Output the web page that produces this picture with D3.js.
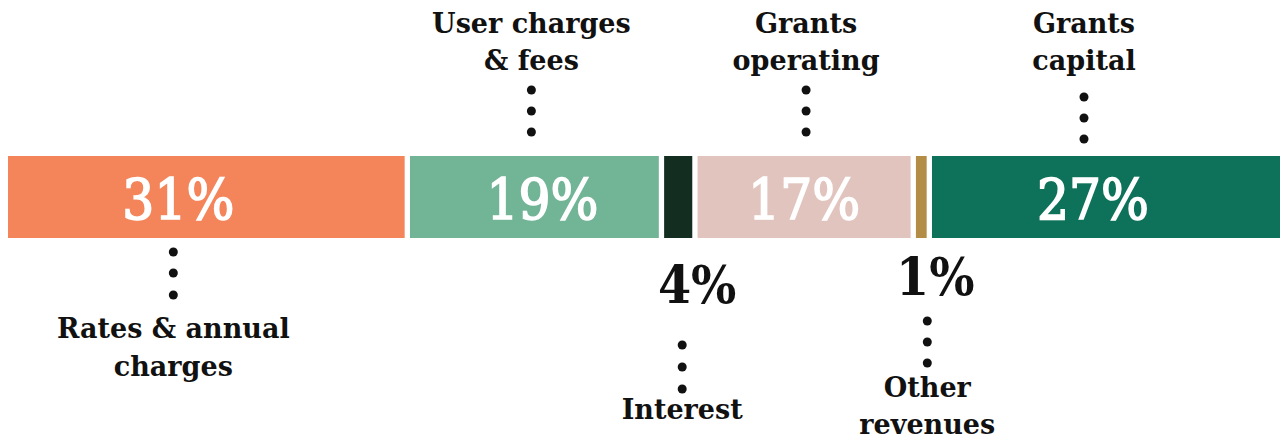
<!DOCTYPE html>
<html>
<head>
<meta charset="utf-8">
<script src="https://cdn.jsdelivr.net/npm/d3@7"></script>
<style>
  body { margin: 0; background: #fff; }
  text { font-family: "DejaVu Serif", serif; fill: #111; }
</style>
</head>
<body>
<svg id="chart" width="1280" height="440"></svg>
<script>
// revenue categories, left to right
var categories = ["Rates & annual charges", "User charges & fees", "Interest",
                  "Grants operating", "Other revenues", "Grants capital"];
// how the labels wrap
var labelLines = [["Rates & annual", "charges"], ["User charges", "& fees"], ["Interest"],
                  ["Grants", "operating"], ["Other", "revenues"], ["Grants", "capital"]];
// segment lengths as drawn
var barShare = [31.0, 19.45, 2.2, 16.65, 0.84, 27.2];
// percentages as printed
var shareLabel = ["31%", "19%", "4%", "17%", "1%", "27%"];
var colors = ["#f4845a", "#72b496", "#132d21", "#e1c4bd", "#b38d45", "#0e715a"];

var svg = d3.select("#chart"),
    width = +svg.attr("width"),
    left = 8, gap = 5.3,
    barTop = 156, barH = 82;

var total = d3.sum(barShare);
var x = d3.scaleLinear()
  .domain([0, total])
  .range([0, width - left - gap * (barShare.length - 1)]);

var segs = [];
var cum = 0;
barShare.forEach(function(v, i) {
  segs.push({
    i: i, name: categories[i], lines: labelLines[i], label: shareLabel[i], color: colors[i],
    x0: left + x(cum) + i * gap, x1: left + x(cum + v) + i * gap
  });
  cum += v;
});
segs.forEach(function(d) { d.cx = (d.x0 + d.x1) / 2; });

// where each annotation goes: side, nudges for dots/name and for the % text
var anno = [
  { side: "below", dx: -33, pdx: -28 },
  { side: "above", dx: -3,  pdx: 8 },
  { side: "out",   dx: 4,   pdx: 19, py: 303, dots: [345, 367, 389], ny: 419 },
  { side: "above", dx: 2,   pdx: 0 },
  { side: "out",   dx: 6,   pdx: 14, py: 295, dots: [321, 342, 363], ny: 397 },
  { side: "above", dx: -22, pdx: -13, ddy: 7 }
];

// the bar
svg.append("g")
  .selectAll("rect")
  .data(segs)
  .enter()
  .append("rect")
  .attr("x", function(d) { return d.x0; })
  .attr("y", barTop)
  .attr("width", function(d) { return d.x1 - d.x0; })
  .attr("height", barH)
  .attr("fill", function(d) { return d.color; });

// percentages inside the wide segments
svg.append("g")
  .selectAll("text")
  .data(segs.filter(function(d) { return anno[d.i].side != "out"; }))
  .enter()
  .append("text")
  .attr("x", function(d) { return d.cx + anno[d.i].pdx; })
  .attr("y", 219)
  .attr("text-anchor", "middle")
  .style("font-family", "'DejaVu Serif Condensed', 'DejaVu Serif', serif")
  .style("font-size", "56px")
  .style("fill", "#fff")
  .style("stroke", "#fff")
  .style("stroke-width", 1.6)
  .text(function(d) { return d.label; });

// percentages for the thin segments sit under the bar
svg.append("g")
  .selectAll("text")
  .data(segs.filter(function(d) { return anno[d.i].side == "out"; }))
  .enter()
  .append("text")
  .attr("x", function(d) { return d.cx + anno[d.i].pdx; })
  .attr("y", function(d) { return anno[d.i].py; })
  .attr("text-anchor", "middle")
  .style("font-family", "'DejaVu Serif Condensed', 'DejaVu Serif', serif")
  .style("font-weight", "bold")
  .style("font-size", "53px")
  .text(function(d) { return d.label; });

// dotted leaders + names
var g = svg.append("g")
  .selectAll("g")
  .data(segs)
  .enter()
  .append("g")
  .attr("transform", function(d) { return "translate(" + (d.cx + anno[d.i].dx) + ",0)"; });

g.each(function(d) {
  var a = anno[d.i], el = d3.select(this), dots, baselines;
  if (a.side == "above") {
    dots = [90, 111, 132].map(function(y) { return y + (a.ddy || 0); });
    baselines = [33, 70];
  } else if (a.side == "below") {
    dots = [252, 273, 295];
    baselines = [338, 376];
  } else {
    dots = a.dots;
    baselines = [a.ny, a.ny + 37];
  }
  el.selectAll("circle")
    .data(dots)
    .enter()
    .append("circle")
    .attr("cy", function(y) { return y; })
    .attr("r", 4.5)
    .attr("fill", "#111");
  el.selectAll("text")
    .data(d.lines)
    .enter()
    .append("text")
    .attr("y", function(t, j) { return baselines[j]; })
    .attr("text-anchor", "middle")
    .style("font-weight", "bold")
    .style("font-size", "27px")
    .text(function(t) { return t; });
});
</script>
</body>
</html>
